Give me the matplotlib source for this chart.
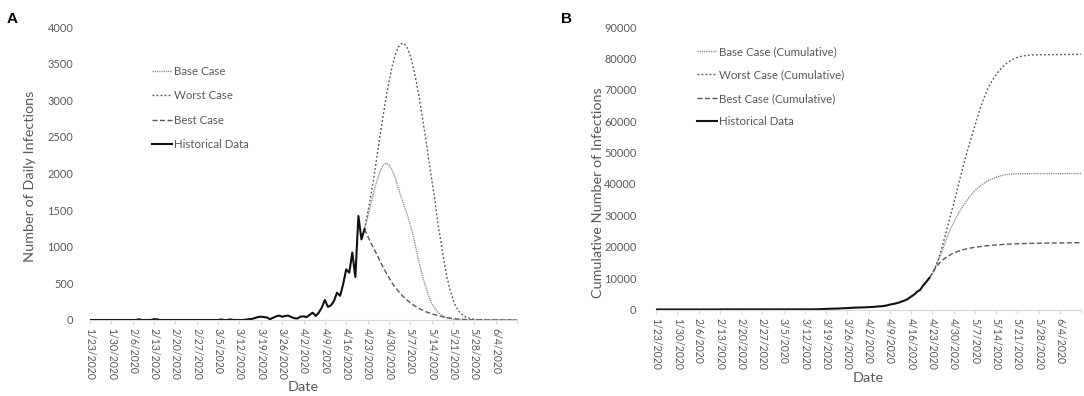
import numpy as np
import matplotlib
matplotlib.use("Agg")
import matplotlib.pyplot as plt

# ---------------- data ----------------
tick_labels = ['1/23/2020', '1/30/2020', '2/6/2020', '2/13/2020', '2/20/2020', '2/27/2020',
               '3/5/2020', '3/12/2020', '3/19/2020', '3/26/2020', '4/2/2020', '4/9/2020',
               '4/16/2020', '4/23/2020', '4/30/2020', '5/7/2020', '5/14/2020', '5/21/2020',
               '5/28/2020', '6/4/2020']
n_days = 141            # 1/23/2020 .. 6/11/2020
scenario_start = 90     # 4/22/2020

hist_daily = [0, 0, 0, 0, 0, 0, 0, 0, 0, 0, 0, 0, 0, 0, 0, 0, 10, 0, 0, 0, 0, 12, 8,
              0, 0, 0, 0, 0, 0, 0, 0, 0, 0, 0, 0, 0, 0, 0, 0, 0, 0, 0,
              0, 8, 0, 0, 8, 0, 0, 0, 0,
              5, 10, 15, 25, 40, 45, 40, 35, 10, 30, 50, 60, 45, 55, 60, 40, 25, 20, 45,
              50, 40, 70, 100, 55, 100, 170, 273, 180, 200, 260, 373, 330, 490, 692, 646,
              920, 587, 1420, 1100, 1240]

base_daily = [1240, 1400, 1570, 1740, 1890, 2020, 2110, 2140, 2120, 2050, 1950, 1810, 1680,
              1560, 1440, 1300, 1150, 950, 770, 600, 460, 330, 230, 160, 110, 75, 50, 32,
              20, 12, 7, 4, 2, 1, 0, 0, 0, 0, 0, 0, 0, 0, 0, 0, 0, 0, 0, 0, 0, 0, 0]
worst_daily = [1240, 1450, 1680, 1930, 2210, 2490, 2760, 3020, 3250, 3450, 3610, 3720, 3770,
               3775, 3720, 3610, 3450, 3250, 3020, 2760, 2490, 2210, 1930, 1660, 1330, 1080,
               820, 590, 420, 280, 180, 115, 75, 45, 28, 17, 10, 6, 4, 2, 1, 1, 1, 0, 0, 0,
               0, 0, 0, 0, 0]
best_daily = [1240, 1150, 1060, 980, 900, 810, 730, 650, 580, 510, 450, 400, 350, 310, 270,
              235, 205, 180, 155, 135, 115, 100, 85, 72, 60, 50, 40, 33, 26, 20, 15, 12, 9,
              7, 5, 4, 3, 2, 2, 1, 1, 1, 1, 1, 1, 0, 0, 0, 0, 0, 0]

base_cum = [9960, 11500, 13400, 15600, 18000, 20700, 23300, 25600, 27600, 29500,
            31200, 32800, 34200, 35500, 36700, 37800, 38700, 39500, 40200, 40800,
            41300, 41750, 42100, 42450, 42700, 42900, 43050, 43150, 43200, 43230,
            43250, 43260, 43270, 43280, 43290, 43300, 43300, 43300, 43300, 43300,
            43300, 43300, 43300, 43300, 43300, 43300, 43300, 43300, 43300, 43300, 43300]
worst_cum = [9960, 11500, 13500, 15900, 19000, 22600, 26200, 29900, 33500, 37300,
             41200, 45000, 48600, 52000, 55200, 58400, 61600, 64600, 67300, 69700,
             71700, 73300, 74700, 76000, 77100, 78000, 78800, 79400, 79900, 80300,
             80600, 80800, 80950, 81050, 81100, 81130, 81150, 81160, 81170, 81180,
             81190, 81200, 81210, 81220, 81230, 81240, 81250, 81260, 81270, 81280, 81290]
best_cum = [9960, 11500, 13100, 14400, 15400, 16200, 16900, 17450, 17950, 18350,
            18700, 19000, 19250, 19450, 19650, 19800, 19950, 20080, 20200, 20300,
            20400, 20480, 20560, 20630, 20700, 20760, 20810, 20860, 20900, 20940,
            20970, 21000, 21030, 21050, 21070, 21090, 21110, 21130, 21150, 21160,
            21180, 21190, 21200, 21210, 21220, 21230, 21240, 21250, 21260, 21270, 21280]

# ---------------- style ----------------
plt.rcParams['font.family'] = ['Lato', 'DejaVu Sans']
TXT = '#595959'
AX = '#d9d9d9'

hist_x = np.arange(len(hist_daily))
scen_x = np.arange(scenario_start, scenario_start + len(base_daily))
hist_cum = np.cumsum(hist_daily)

fig = plt.figure(figsize=(10.84, 3.96), dpi=100)
W, H = 1084, 396

def make_ax(x0, x1, ybot, ytop):
    return fig.add_axes([x0 / W, 1 - ybot / H, (x1 - x0) / W, (ybot - ytop) / H])

axA = make_ax(90, 517, 320, 27)
axB = make_ax(656, 1081, 309.5, 27)

styles = dict(
    base=dict(color='#8c8c8c', lw=1.0, dashes=(0.9, 0.7)),
    worst=dict(color='#555555', lw=1.0, dashes=(1.3, 1.6)),
    best=dict(color='#595959', lw=1.0, dashes=(3.6, 1.8)),
    hist=dict(color='#111111', lw=1.5),
)

def draw(ax, hist_y, base_y, worst_y, best_y, labels, ymax, ystep):
    ax.plot(scen_x, base_y, label=labels[0], **styles['base'])
    ax.plot(scen_x, worst_y, label=labels[1], **styles['worst'])
    ax.plot(scen_x, best_y, label=labels[2], **styles['best'])
    ax.plot(hist_x, hist_y, label=labels[3], solid_joinstyle='round', **styles['hist'])
    ax.set_xlim(0, n_days - 1)
    ax.set_ylim(0, ymax)
    ax.set_yticks(np.arange(0, ymax + 1, ystep))
    ticks = np.arange(0, n_days, 7)
    ax.set_xticks(ticks)
    ax.set_xticklabels(tick_labels + [''] * (len(ticks) - len(tick_labels)),
                       rotation=-90, fontsize=7.6, color=TXT)
    for s in ['top', 'right', 'left']:
        ax.spines[s].set_visible(False)
    ax.spines['bottom'].set_color(AX)
    ax.spines['bottom'].set_linewidth(0.8)
    ax.tick_params(axis='x', length=3, width=0.8, color=AX, pad=3)
    ax.tick_params(axis='y', length=0, labelsize=7.9, labelcolor=TXT)
    ax.set_xlabel('Date', fontsize=10.4, color=TXT)

draw(axA, hist_daily, base_daily, worst_daily, best_daily,
     ['Base Case', 'Worst Case', 'Best Case', 'Historical Data'], 4000, 500)
draw(axB, hist_cum, base_cum, worst_cum, best_cum,
     ['Base Case (Cumulative)', 'Worst Case (Cumulative)', 'Best Case (Cumulative)',
      'Historical Data'], 90000, 10000)

axA.tick_params(axis='y', pad=12)
axB.tick_params(axis='y', pad=14)

axA.set_ylabel('Number of Daily Infections', fontsize=10.4, color=TXT)
axB.set_ylabel('Cumulative Number of Infections', fontsize=10.4, color=TXT)
axA.yaxis.set_label_coords((36 - 90) / 427, (320 - 176) / 293)
axB.yaxis.set_label_coords((604 - 656) / 425, (309.5 - 193) / 282.5)
axA.xaxis.set_label_coords(0.499, -(381 - 320) / 293)
axB.xaxis.set_label_coords(0.499, -(372 - 309.5) / 282.5)

legkw = dict(frameon=False, fontsize=8.3, handlelength=1.75, handletextpad=0.2,
             borderpad=0, borderaxespad=0, loc='upper left', labelcolor=TXT)
axA.legend(bbox_to_anchor=(152 / W, 1 - 66 / H), bbox_transform=fig.transFigure,
           labelspacing=1.16, **legkw)
axB.legend(bbox_to_anchor=(697 / W, 1 - 46 / H), bbox_transform=fig.transFigure,
           labelspacing=1.08, **legkw)

fig.text(7 / W, 1 - 12 / H, 'A', fontsize=11, fontweight='bold', va='top', ha='left',
         family=['Liberation Sans', 'DejaVu Sans'])
fig.text(561 / W, 1 - 12 / H, 'B', fontsize=11, fontweight='bold', va='top', ha='left',
         family=['Liberation Sans', 'DejaVu Sans'])

fig.savefig('out.png', dpi=100)
